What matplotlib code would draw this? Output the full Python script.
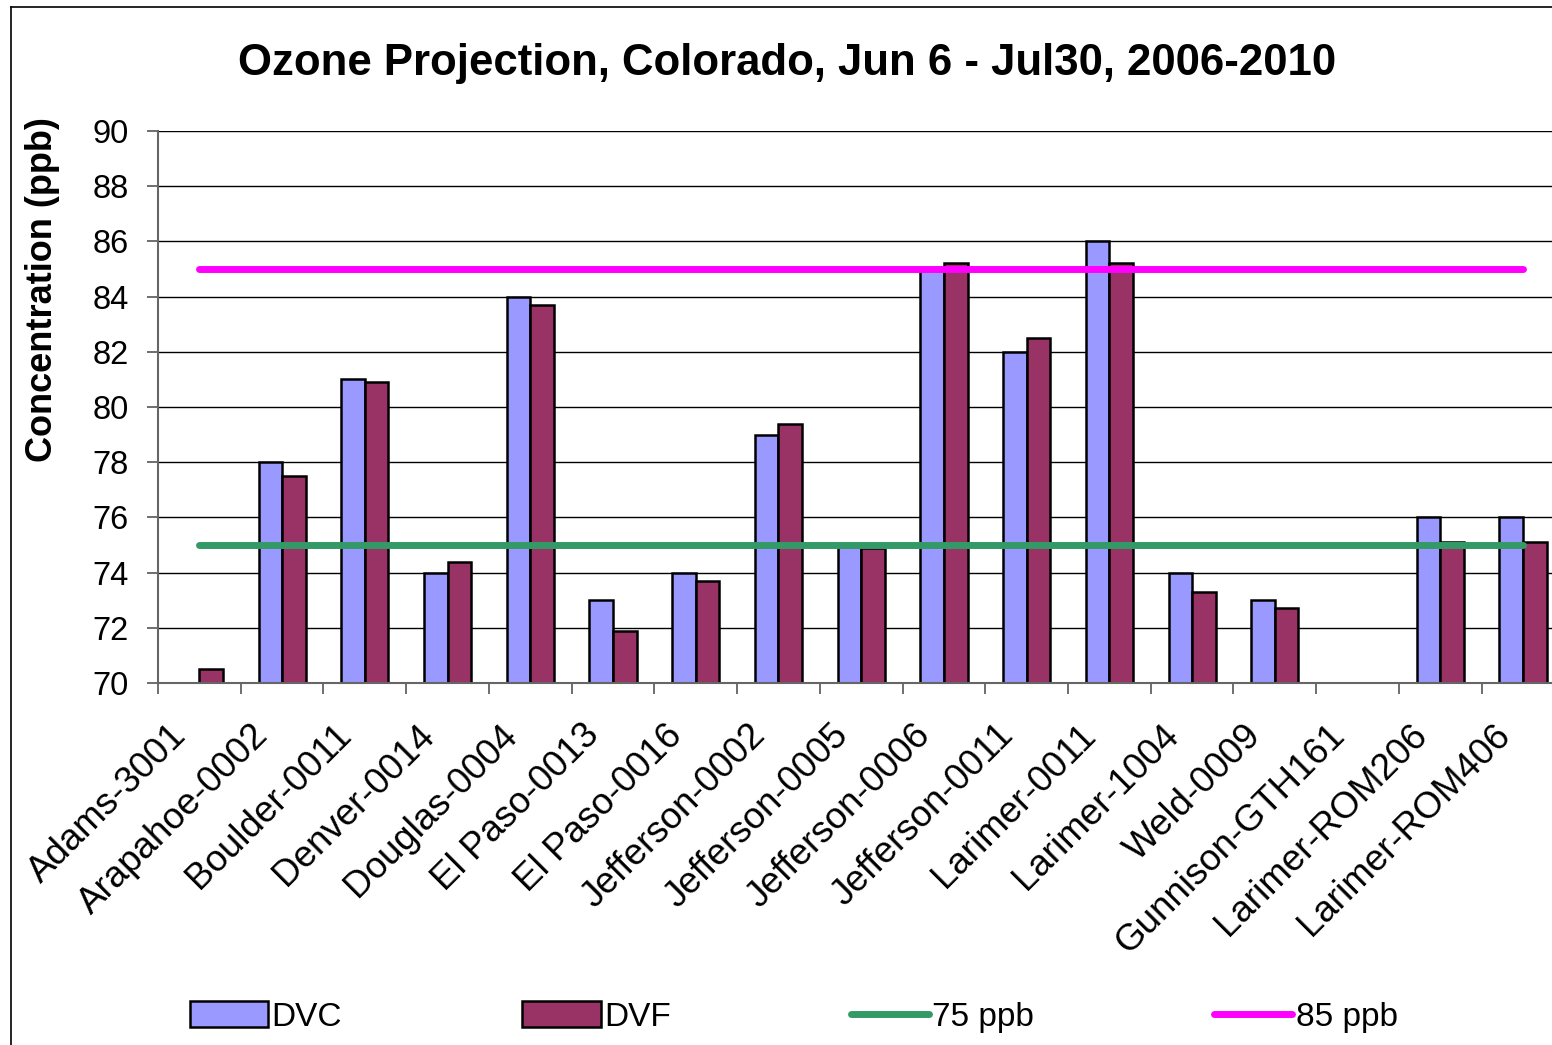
import numpy as np
import matplotlib
matplotlib.use("Agg")
import matplotlib.pyplot as plt
from matplotlib.lines import Line2D
from matplotlib.transforms import ScaledTranslation

plt.rcParams['font.family'] = ['Liberation Sans', 'DejaVu Sans']

sites = ["Adams-3001", "Arapahoe-0002", "Boulder-0011", "Denver-0014",
         "Douglas-0004", "El Paso-0013", "El Paso-0016", "Jefferson-0002",
         "Jefferson-0005", "Jefferson-0006", "Jefferson-0011", "Larimer-0011",
         "Larimer-1004", "Weld-0009", "Gunnison-GTH161", "Larimer-ROM206",
         "Larimer-ROM406"]
dvc = [np.nan, 78, 81, 74, 84, 73, 74, 79, 75, 85, 82, 86, 74, 73, np.nan, 76, 76]
dvf = [70.5, 77.5, 80.9, 74.4, 83.7, 71.9, 73.7, 79.4, 74.9, 85.2, 82.5, 85.2,
       73.3, 72.7, np.nan, 75.1, 75.1]
std75 = [75] * len(sites)
std85 = [85] * len(sites)

W, H = 1552, 1045
fig = plt.figure(figsize=(W / 100, H / 100), dpi=100)
ax = fig.add_axes([158 / W, 1 - 683 / H, 1406.4 / W, 552 / H])

x = np.arange(len(sites))
bw = 0.285
b1 = ax.bar(x - bw / 2, dvc, bw, color='#9999FF', edgecolor='black', linewidth=1.8,
            label='DVC', zorder=2)
b2 = ax.bar(x + bw / 2, dvf, bw, color='#993366', edgecolor='black', linewidth=1.8,
            label='DVF', zorder=2)
l1, = ax.plot(x, std75, color='#339966', lw=5, solid_capstyle='round', label='75 ppb', zorder=3)
l2, = ax.plot(x, std85, color='#FF00FF', lw=5, solid_capstyle='round', label='85 ppb', zorder=3)

ax.set_xlim(-0.5, len(sites) - 0.5)
ax.set_ylim(70, 90)
ax.set_yticks(np.arange(70, 91, 2))
ax.yaxis.grid(True, color='black', lw=1.0, zorder=0)
ax.set_axisbelow(True)
ax.tick_params(axis='y', labelsize=23.5, length=8, width=1.2, color='#555555', pad=13)

# category boundaries as major ticks, names as minor tick labels
ax.set_xticks(np.arange(-0.5, len(sites), 1.0))
ax.set_xticklabels([])
ax.set_xticks(x, minor=True)
ax.set_xticklabels(sites, minor=True, rotation=45, ha='right', va='top',
                   rotation_mode='anchor', fontsize=26.5)
ax.tick_params(axis='x', which='major', length=8, width=1.2, color='#555555')
ax.tick_params(axis='x', which='minor', length=0, pad=25)
shift = ScaledTranslation(-0.31, 0, fig.dpi_scale_trans)
for lab in ax.get_xticklabels(minor=True):
    lab.set_transform(lab.get_transform() + shift)

for s in ['top', 'right']:
    ax.spines[s].set_visible(False)
ax.spines['left'].set_color('#666666')
ax.spines['left'].set_linewidth(1.5)
ax.spines['bottom'].set_color('#666666')
ax.spines['bottom'].set_linewidth(1.5)

ax.set_ylabel('Concentration (ppb)', fontsize=26, fontweight='bold')
ax.yaxis.set_label_coords((60 - 158) / 1406.4, (683 - 290) / 552)

fig.text(787 / W, 1 - 64 / H, 'Ozone Projection, Colorado, Jun 6 - Jul30, 2006-2010',
         ha='center', va='center', fontsize=31.5, fontweight='bold')

fig.legend([b1, b2, l1, l2], ['DVC', 'DVF', '75 ppb', '85 ppb'],
           loc='center left', bbox_to_anchor=(190 / W, 1 - 1017 / H), ncol=4,
           frameon=False, fontsize=24, handlelength=2.35, handleheight=0.8,
           handletextpad=0.1, columnspacing=5.4, borderpad=0, borderaxespad=0)

fig.add_artist(Line2D([11 / W, 11 / W], [0, 1 - 7 / H], color='black', lw=1.2))
fig.add_artist(Line2D([11 / W, 1], [1 - 7 / H, 1 - 7 / H], color='black', lw=1.2))

fig.savefig('out.png', dpi=100)
